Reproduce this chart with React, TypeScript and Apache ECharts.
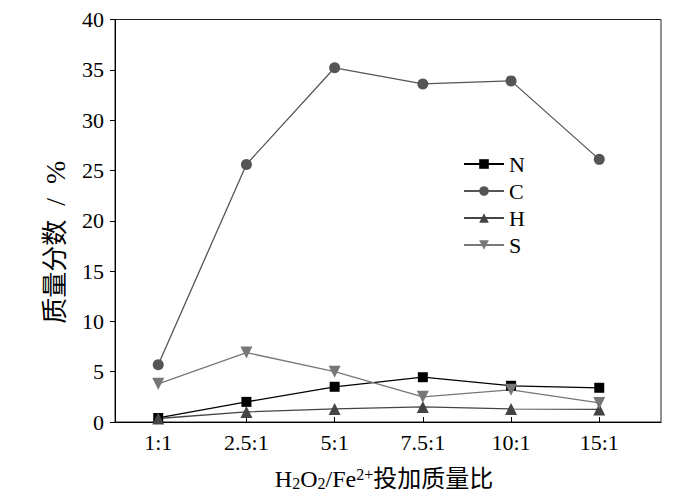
import React, { useEffect, useRef } from "react";
import * as echarts from "echarts";

const categories = ["1:1", "2.5:1", "5:1", "7.5:1", "10:1", "15:1"];
const seriesN = [0.4, 2.0, 3.5, 4.45, 3.6, 3.4];
const seriesC = [5.7, 25.6, 35.2, 33.6, 33.9, 26.1];
const seriesH = [0.35, 1.0, 1.3, 1.5, 1.3, 1.25];
const seriesS = [3.8, 6.9, 5.0, 2.5, 3.2, 1.9];
const yTicks = [0, 5, 10, 15, 20, 25, 30, 35, 40];

const FONT = "'Liberation Serif', 'Times New Roman', 'Noto Sans CJK SC', serif";
const INV_TRI = "path://M0,0 L12,0 L6,11 Z";

export default function App() {
  const ref = useRef<HTMLDivElement>(null);
  useEffect(() => {
    if (!ref.current) return;
    const chart = echarts.init(ref.current, undefined, { renderer: "svg" });
    const idx = categories.map((_, i) => i);
    const toData = (arr: number[]) => arr.map((v, i) => [i, v]);
    const mk = (name: string, data: number[], color: string, symbol: string, size: number) => ({
      name,
      type: "line",
      data: toData(data),
      symbol,
      symbolSize: size,
      itemStyle: { color },
      lineStyle: { color, width: 1.3 },
    });
    chart.setOption({
      animation: false,
      backgroundColor: "#fff",
      grid: {
        left: 115,
        right: 39,
        top: 19.5,
        bottom: 80,
        show: true,
        borderColor: "#222",
        borderWidth: 1,
        backgroundColor: "transparent",
      },
      legend: {
        orient: "vertical",
        left: 458,
        top: 148,
        itemWidth: 40,
        itemHeight: 12,
        itemGap: 5,
        textStyle: { fontFamily: FONT, fontSize: 22, color: "#000" },
        data: ["N", "C", "H", "S"],
      },
      xAxis: {
        type: "value",
        min: -0.49,
        max: 5.7,
        splitLine: { show: false },
        axisLine: { show: true, onZero: false, lineStyle: { color: "#000", width: 1 } },
        axisTick: {
          show: true,
          inside: true,
          length: 5,
          customValues: idx,
          lineStyle: { color: "#000" },
        },
        axisLabel: {
          customValues: idx,
          formatter: (v: number) => categories[Math.round(v)] ?? "",
          fontFamily: FONT,
          fontSize: 22,
          color: "#000",
          margin: 9,
        },
        name: "{n|H}{s|2}{n|O}{s|2}{n|/Fe}{p|2+}{n|投加质量比}",
        nameLocation: "middle",
        nameGap: 44,
        nameTextStyle: {
          padding: [0, 8, 0, 0],
          rich: {
            n: { fontFamily: FONT, fontSize: 24, color: "#000" },
            s: { fontFamily: FONT, fontSize: 16, color: "#000", verticalAlign: "bottom", padding: [9, 0, 0, 0] },
            p: { fontFamily: FONT, fontSize: 16, color: "#000", verticalAlign: "top", padding: [0, 0, 9, 0] },
          },
        },
      },
      yAxis: {
        type: "value",
        min: 0,
        max: 40,
        interval: 5,
        splitLine: { show: false },
        axisLine: { show: true, onZero: false, lineStyle: { color: "#000", width: 1 } },
        axisTick: { show: true, inside: false, length: 5, lineStyle: { color: "#000" } },
        axisLabel: {
          customValues: yTicks,
          fontFamily: FONT,
          fontSize: 22,
          color: "#000",
          margin: 11,
        },
        name: "{c|质量分数}{l|  /  %}",
        nameLocation: "middle",
        nameGap: 46,
        nameTextStyle: {
          padding: [0, 43, 0, 0],
          rich: {
            c: { fontFamily: FONT, fontSize: 26, color: "#000" },
            l: { fontFamily: FONT, fontSize: 28, color: "#000" },
          },
        },
      },
      series: [
        mk("N", seriesN, "#000000", "rect", 10),
        mk("C", seriesC, "#555555", "circle", 11),
        mk("H", seriesH, "#444444", "triangle", 12),
        mk("S", seriesS, "#777777", INV_TRI, 12),
      ],
    });
    return () => chart.dispose();
  }, []);
  return <div ref={ref} style={{ width: 700, height: 502, position: "absolute", left: 0, top: 0 }} />;
}
